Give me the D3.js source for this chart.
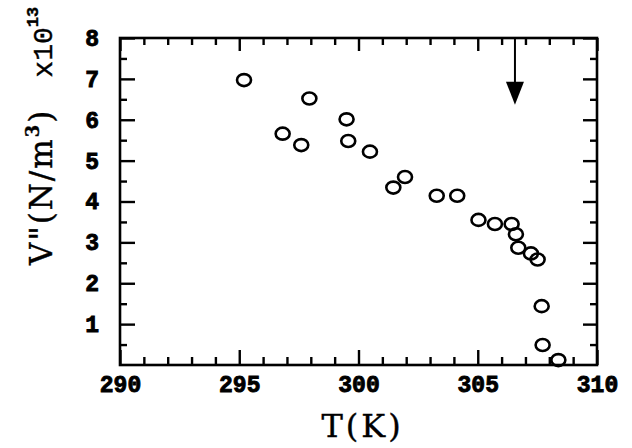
<!DOCTYPE html>
<html>
<head>
<meta charset="utf-8">
<script src="https://cdn.jsdelivr.net/npm/d3@7/dist/d3.min.js"></script>
<style>
  html, body { margin: 0; padding: 0; background: #fff; }
  svg { display: block; }
</style>
</head>
<body>
<svg id="chart" width="632" height="448"></svg>
<script>
// ---- data ----
const temperatureK = [295.2, 297.94, 296.82, 297.6, 299.5, 299.57, 300.48, 301.46, 301.95, 303.28, 304.14, 305.03, 305.72, 306.42, 306.6, 306.7, 307.23, 307.51, 307.68, 307.72, 308.38];
const modulusE13   = [6.97, 6.52, 5.66, 5.38, 6.01, 5.48, 5.22, 4.34, 4.60, 4.14, 4.14, 3.55, 3.45, 3.45, 3.20, 2.87, 2.73, 2.58, 1.44, 0.49, 0.12];
const xTickLabels = [290, 295, 300, 305, 310];
const yTickLabels = [1, 2, 3, 4, 5, 6, 7, 8];
const arrowT = 306.56;
const arrowTipV = 6.37;

const svg = d3.select("#chart");
const L = 120, R = 597, T = 38, B = 365;
const x = d3.scaleLinear().domain([290, 310]).range([L, R]);
const y = d3.scaleLinear().domain([0, 8]).range([B, T]);

const xMinor = d3.range(290, 310.001, 1).filter(v => v % 5 !== 0);
const yMinor = d3.range(0.5, 8, 1);

const ink = "#000";
const labelFont = "'Liberation Mono', 'Courier New', monospace";
const titleFont = "'DejaVu Serif', 'Liberation Serif', serif";

function styleAxis(g) {
  g.select(".domain").remove();
  g.selectAll(".tick line").attr("stroke", ink).attr("stroke-width", 2.4);
  g.selectAll("text")
    .attr("fill", ink)
    .attr("stroke", ink)
    .attr("stroke-width", 0.9)
    .style("font-family", labelFont)
    .style("font-weight", "bold")
    .style("font-size", "23px");
}

// bottom major + labels
svg.append("g").attr("transform", `translate(0,${B})`)
  .call(d3.axisBottom(x).tickValues(xTickLabels).tickSize(-15).tickPadding(11).tickFormat(d3.format("d")))
  .call(styleAxis);
svg.append("g").attr("transform", `translate(0,${B})`)
  .call(d3.axisBottom(x).tickValues(xMinor).tickSize(-8).tickFormat(""))
  .call(styleAxis);
// top ticks
svg.append("g").attr("transform", `translate(0,${T})`)
  .call(d3.axisTop(x).tickValues(xTickLabels).tickSize(-13).tickFormat(""))
  .call(styleAxis);
svg.append("g").attr("transform", `translate(0,${T})`)
  .call(d3.axisTop(x).tickValues(xMinor).tickSize(-7).tickFormat(""))
  .call(styleAxis);
// left major + labels
svg.append("g").attr("transform", `translate(${L},0)`)
  .call(d3.axisLeft(y).tickValues(yTickLabels).tickSize(-15).tickPadding(21).tickFormat(d3.format("d")))
  .call(styleAxis);
svg.append("g").attr("transform", `translate(${L},0)`)
  .call(d3.axisLeft(y).tickValues(yMinor).tickSize(-7).tickFormat(""))
  .call(styleAxis);
// right ticks
svg.append("g").attr("transform", `translate(${R},0)`)
  .call(d3.axisRight(y).tickValues(yTickLabels).tickSize(-14).tickFormat(""))
  .call(styleAxis);
svg.append("g").attr("transform", `translate(${R},0)`)
  .call(d3.axisRight(y).tickValues(yMinor).tickSize(-7).tickFormat(""))
  .call(styleAxis);

// frame
svg.append("rect").attr("x", L).attr("y", T).attr("width", R - L).attr("height", B - T)
  .attr("fill", "none").attr("stroke", ink).attr("stroke-width", 2.6);

// points
svg.append("g").selectAll("ellipse")
  .data(temperatureK.map((t, i) => [t, modulusE13[i]]))
  .join("ellipse")
  .attr("cx", d => x(d[0]))
  .attr("cy", d => y(d[1]))
  .attr("rx", 7)
  .attr("ry", 6)
  .attr("fill", "none")
  .attr("stroke", ink)
  .attr("stroke-width", 2.6);

// arrow
const ax = x(arrowT), tipY = y(arrowTipV);
svg.append("line").attr("x1", ax).attr("x2", ax).attr("y1", T).attr("y2", tipY - 18)
  .attr("stroke", ink).attr("stroke-width", 2);
svg.append("path")
  .attr("d", `M${ax - 9},${tipY - 23} L${ax + 9},${tipY - 23} L${ax},${tipY} Z`)
  .attr("fill", ink);

// x title
svg.append("text").attr("x", (L + R) / 2 + 4).attr("y", 437)
  .attr("text-anchor", "middle")
  .style("font-family", titleFont)
  .style("font-size", "32px")
  .style("letter-spacing", "3px")
  .attr("fill", ink).attr("stroke", ink).attr("stroke-width", 0.4)
  .text("T(K)");

// y title
const yt = svg.append("text")
  .attr("transform", "translate(52,265) rotate(-90)")
  .style("font-family", titleFont)
  .style("font-size", "31px")
  .style("letter-spacing", "2px")
  .attr("fill", ink).attr("stroke", ink).attr("stroke-width", 0.4);
yt.append("tspan").text("V\"(N/m");
yt.append("tspan").attr("dy", -13).style("font-size", "18px").style("font-weight", "bold").text("3");
yt.append("tspan").attr("dy", 13).text(")");
yt.append("tspan").attr("dx", 31).style("font-family", labelFont).style("font-size", "28px").style("letter-spacing", "0px").text("x10");
yt.append("tspan").attr("dy", -14).style("font-family", labelFont).style("font-size", "17px").style("font-weight", "bold").style("letter-spacing", "0px").text("13");
</script>
</body>
</html>
